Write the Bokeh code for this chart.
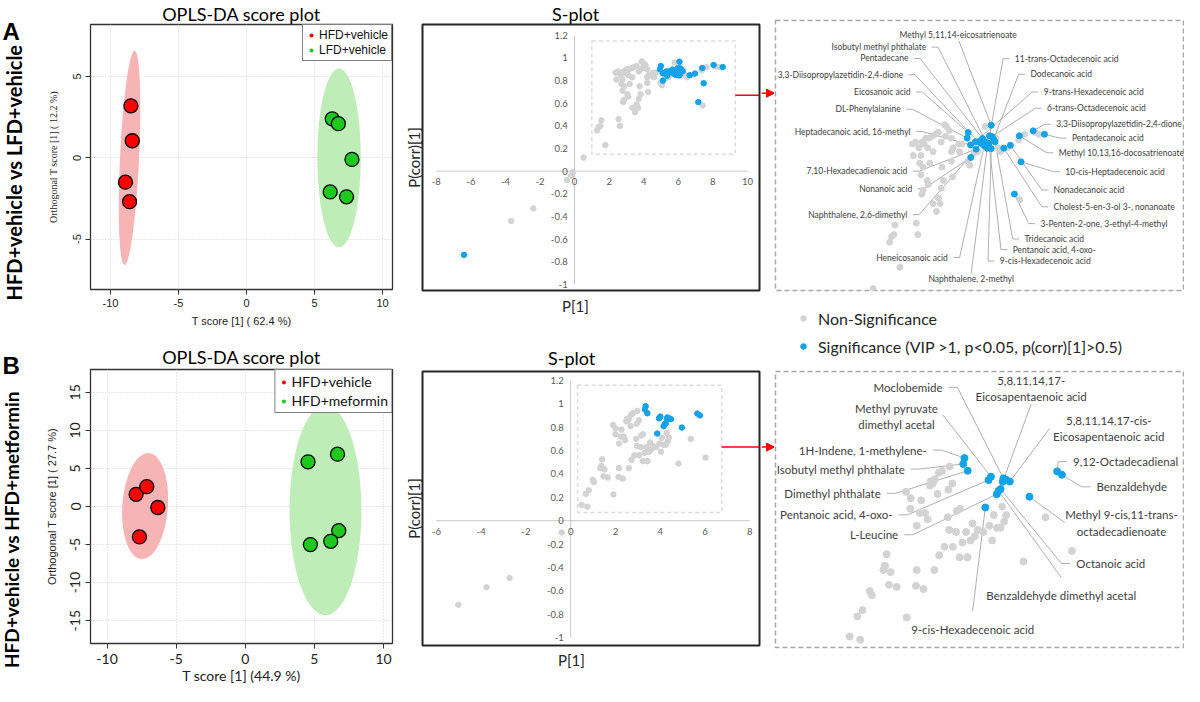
import math
from bokeh.plotting import figure
from bokeh.layouts import row, column
from bokeh.models import (Range1d, FixedTicker, Legend, LegendItem, Label, Arrow,
                          NormalHead, BoxAnnotation, Title)
from bokeh.core.properties import value
from bokeh.embed import file_html
from bokeh.resources import INLINE

# ======================= DATA =======================
row_labels = ["HFD+vehicle vs LFD+vehicle", "HFD+vehicle vs HFD+metformin"]
panel_letters = ["A", "B"]

# ---- OPLS-DA score plot A ----
scoreA_groups = ["HFD+vehicle", "LFD+vehicle"]
scoreA_g1_t = [-8.5, -8.4, -8.9, -8.6]
scoreA_g1_to = [3.2, 1.05, -1.5, -2.7]
scoreA_g2_t = [6.3, 6.75, 7.75, 6.15, 7.35]
scoreA_g2_to = [2.4, 2.1, -0.1, -2.1, -2.4]
scoreA_ell_x = [-8.6, 6.8]
scoreA_ell_y = [0.0, 0.0]
scoreA_ell_w = [1.4, 3.2]
scoreA_ell_h = [13.2, 11.0]
scoreA_ell_deg = [-2.7, 0.0]
scoreA_xlabel = "T score [1] ( 62.4 %)"
scoreA_ylabel = "Orthogonal T score [1] ( 12.2 %)"
scoreA_yticks = [-5, 0, 5]

# ---- OPLS-DA score plot B ----
scoreB_groups = ["HFD+vehicle", "HFD+meformin"]
scoreB_g1_t = [-7.9, -7.13, -6.33, -7.66]
scoreB_g1_to = [1.6, 2.6, -0.13, -4.0]
scoreB_g2_t = [4.54, 6.67, 6.76, 6.18, 4.71]
scoreB_g2_to = [5.87, 6.87, -3.17, -4.57, -5.0]
scoreB_ell_x = [-7.25, 5.8]
scoreB_ell_y = [0.05, -0.5]
scoreB_ell_w = [3.3, 5.2]
scoreB_ell_h = [14.0, 27.6]
scoreB_ell_deg = [-4.0, 0.0]
scoreB_xlabel = "T score [1] (44.9 %)"
scoreB_ylabel = "Orthogonal T score [1] ( 27.7 %)"
scoreB_yticks = [-15, -10, -5, 0, 5, 10, 15]

score_xticks = [-10, -5, 0, 5, 10]
score_title = "OPLS-DA score plot"

# ---- S-plot A ----
grayA_p = [-3.67, -2.39, -0.44, -0.19, -0.10, 0.52, 1.78, 1.30, 1.39, 1.50, 1.55, 2.55, 2.62,
           3.50, 3.34, 2.37, 2.41, 2.52, 2.67, 2.77, 2.83, 2.92, 3.00, 3.09, 3.15, 3.29, 3.44,
           3.59, 3.72, 3.88, 3.97, 3.92, 4.10, 4.20, 4.28, 4.20, 3.34, 2.71, 2.87, 2.77, 3.06,
           3.19, 3.11, 2.87, 2.81, 3.59, 3.67, 3.72, 3.82, 3.76, 4.20, 4.26, 4.58, 4.55, 4.70,
           4.97, 5.06, 5.25, 5.44, 5.79, 6.30, 6.40, 6.50, 6.84, 7.36, 7.64, 8.12, 8.31, 7.41]
grayA_pcorr = [-0.44, -0.33, -0.08, -0.04, -0.01, 0.12, 0.23, 0.36, 0.39, 0.40, 0.45, 0.46, 0.40,
               0.52, 0.56, 0.87, 0.81, 0.88, 0.85, 0.81, 0.88, 0.87, 0.90, 0.85, 0.90, 0.91, 0.92,
               0.93, 0.88, 0.97, 0.96, 0.91, 0.94, 0.90, 0.85, 0.83, 0.83, 0.77, 0.75, 0.71, 0.68,
               0.77, 0.66, 0.63, 0.61, 0.59, 0.56, 0.64, 0.68, 0.75, 0.78, 0.70, 0.83, 0.87, 0.87,
               0.78, 0.76, 0.82, 0.83, 0.96, 0.90, 0.85, 0.83, 0.85, 0.89, 0.92, 0.93, 0.92, 0.58]
sigA_names = ["Methyl 5,11,14-eicosatrienoate", "Isobutyl methyl phthalate", "Pentadecane",
              "3,3-Diisopropylazetidin-2,4-dione", "Eicosanoic acid", "DL-Phenylalanine",
              "Heptadecanoic acid, 16-methyl", "7,10-Hexadecadienoic acid", "Nonanoic acid",
              "Naphthalene, 2,6-dimethyl", "Heneicosanoic acid", "Naphthalene, 2-methyl",
              "9-cis-Hexadecenoic acid", "Pentanoic acid, 4-oxo-", "Tridecanoic acid",
              "3-Penten-2-one, 3-ethyl-4-methyl", "Cholest-5-en-3-ol 3-, nonanoate",
              "Nonadecanoic acid", "10-cis-Heptadecenoic acid", "Methyl 10,13,16-docosatrienoate",
              "Pentadecanoic acid", "3,3-Diisopropylazetidin-2,4-dione", "6-trans-Octadecenoic acid",
              "9-trans-Hexadecenoic acid", "Dodecanoic acid", "11-trans-Octadecenoic acid", ""]
sigA_p = [6.07, 5.82, 5.66, 5.46, 4.99, 4.94, 5.10, 5.36, 5.11, 5.60, 5.74, 5.88, 6.07, 5.96,
          6.25, 7.16, 6.66, 6.97, 7.47, 7.39, 8.57, 8.04, 6.11, 5.32, 6.18, 5.99, -6.4]
sigA_pcorr = [0.967, 0.881, 0.898, 0.881, 0.929, 0.900, 0.865, 0.843, 0.800, 0.872, 0.860, 0.848,
              0.846, 0.872, 0.881, 0.610, 0.848, 0.863, 0.777, 0.912, 0.920, 0.938, 0.908, 0.881,
              0.894, 0.912, -0.74]
splotA_xticks = [-8, -6, -4, -2, 0, 2, 4, 6, 8, 10]
splotA_xtick_labels = ["-8", "-6", "-4", "-2", "0", "2", "4", "6", "8", "10"]

# ---- S-plot B ----
grayB_p = [-0.40, -2.73, -3.76, -5.02, 0.49, 0.75, 0.68, 0.81, 0.99, 1.04, 1.33, 1.41, 1.37, 1.51,
           1.47, 1.66, 1.91, 2.16, 2.14, 2.33, 2.60, 1.89, 2.01, 2.00, 2.16, 2.37, 2.43, 2.24, 2.49,
           2.56, 2.61, 2.71, 2.79, 2.98, 2.68, 2.51, 2.95, 3.05, 2.93, 2.97, 3.16, 3.24, 2.85, 3.06,
           3.43, 3.30, 2.72, 3.14, 3.39, 3.50, 3.61, 3.68, 3.55, 3.82, 3.97, 4.04, 4.08, 4.25, 4.29,
           4.39, 4.34, 4.16, 4.82, 5.37, 6.03, 2.27, 3.23, 3.42]
grayB_pcorr = [-0.10, -0.49, -0.57, -0.72, 0.135, 0.12, 0.23, 0.26, 0.35, 0.33, 0.45, 0.525, 0.47,
               0.44, 0.38, 0.37, 0.225, 0.45, 0.375, 0.36, 0.45, 0.82, 0.79, 0.74, 0.66, 0.72, 0.69,
               0.72, 0.85, 0.86, 0.88, 0.91, 0.92, 0.94, 0.81, 0.87, 0.83, 0.86, 0.70, 0.64, 0.73,
               0.74, 0.56, 0.56, 0.51, 0.58, 0.52, 0.63, 0.63, 0.59, 0.61, 0.64, 0.67, 0.63, 0.66,
               0.59, 0.71, 0.65, 0.75, 0.71, 0.68, 0.65, 0.49, 0.70, 0.54, 0.78, 0.51, 0.51]
sigB_names = ["Moclobemide", "Methyl pyruvate\ndimethyl acetal", "1H-Indene, 1-methylene-",
              "Isobutyl methyl phthalate", "Dimethyl phthalate", "Pentanoic acid, 4-oxo-",
              "L-Leucine", "5,8,11,14,17-\nEicosapentaenoic acid",
              "5,8,11,14,17-cis-\nEicosapentaenoic acid", "9,12-Octadecadienal", "Benzaldehyde",
              "Methyl 9-cis,11-trans-\noctadecadienoate", "Octanoic acid",
              "Benzaldehyde dimethyl acetal", "9-cis-Hexadecenoic acid", ""]
sigB_p = [4.32, 4.01, 3.35, 3.32, 3.43, 3.95, 4.155, 4.305, 4.48, 5.66, 5.78, 4.97, 4.25, 4.20,
          3.87, 4.39]
sigB_pcorr = [0.884, 0.892, 0.980, 0.952, 0.920, 0.876, 0.809, 0.868, 0.869, 0.917, 0.901, 0.797,
              0.833, 0.825, 0.746, 0.877]
splotB_xticks = [-6, -4, -2, 0, 2, 4, 6, 8]
splotB_xtick_labels = ["-6", "-4", "-2", "0", "2", "4", "6", "8"]

splot_yticks = [-1, -0.8, -0.6, -0.4, -0.2, 0, 0.2, 0.4, 0.6, 0.8, 1, 1.2]
splot_ytick_labels = ["-1", "-0.8", "-0.6", "-0.4", "-0.2", "0", "0.2", "0.4", "0.6", "0.8", "1", "1.2"]
splot_title = "S-plot"
splot_xlabel = "P[1]"
splot_ylabel = "P(corr)[1]"
legend_labels = ["Non-Significance", "Significance (VIP >1, p<0.05, p(corr)[1]>0.5)"]

# ======================= LAYOUT / STYLE =======================
RED, GREEN = "#FF0000", "#1FC81F"
RED_ELL, GREEN_ELL = "#F7B4B4", "#BFEDB7"
GRAY, BLUE = "#D3D3D3", "#12A2E8"
TXT = "#404040"
NAN = float("nan")

# zoom windows in S-plots and the zoomed view ranges
zoomA_box = (1.0, 9.3, 0.15, 1.15)
zoomB_box = (0.31, 6.75, 0.07, 1.16)
arrowA_y, arrowB_y = 0.67, 0.63
panelA_xr, panelA_yr = (-4.06, 15.1), (0.11, 1.51)
panelB_xr, panelB_yr = (-1.36, 8.81), (0.083, 1.39)

# label layout in zoomed-panel coordinates (x, y, align); lead start for centred labels
labA_x = [4.52, 3.02, 2.18, 1.94, 2.285, 1.82, 2.285, 2.13, 2.36, 2.13, 4.035, 5.13,
          6.47, 7.08, 7.63, 8.38, 9.0, 9.0, 9.55, 9.24, 9.86, 9.12, 8.69, 8.54, 7.91, 7.18]
labA_y = [1.434, 1.372, 1.313, 1.229, 1.139, 1.05, 0.934, 0.729, 0.638, 0.503, 0.281, 0.17,
          0.263, 0.322, 0.377, 0.457, 0.544, 0.631, 0.726, 0.824, 0.90, 0.972, 1.055, 1.139,
          1.231, 1.312]
labA_al = ["center"] + ["right"] * 10 + ["center"] + ["left"] * 14
leadA = {0: (4.55, 1.405), 11: (5.13, 0.198)}

labB_x = [2.805, 1.655, 2.413, 1.863, 1.263, 1.555, 1.697, 5.013, 6.947, 6.055, 6.64, 7.263,
          6.138, 5.763, 3.555]
labB_y = [1.315, 1.177, 1.018, 0.928, 0.813, 0.711, 0.617, 1.309, 1.12, 0.963, 0.844, 0.672,
          0.481, 0.331, 0.166]
labB_al = ["right", "center", "right", "right", "right", "right", "right", "center", "center",
           "left", "left", "center", "left", "center", "center"]
leadB = {1: (2.81, 1.185), 7: (5.013, 1.236), 8: (5.47, 1.12), 11: (5.85, 0.675),
         13: (5.763, 0.415), 14: (3.555, 0.255)}

W0, W1, W2, WC, W3 = 38, 364, 359, 13, 410
HA, HB = 337, 349


def base_fig(w, h, xr, yr, axes=False, **kw):
    args = dict(width=w, height=h, x_range=Range1d(*xr), y_range=Range1d(*yr),
                toolbar_location=None, output_backend="svg", title=None)
    if not axes:
        args.update(x_axis_type=None, y_axis_type=None)
    args.update(kw)
    p = figure(**args)
    p.background_fill_color = "white"
    p.border_fill_color = "white"
    return p


def letter_fig(h, letter, letter_y, label, label_x, label_y, label_fs):
    p = base_fig(W0, h, (0, W0), (h, 0), min_border=0)
    p.outline_line_color = None
    p.add_layout(Label(x=2, y=letter_y, text=letter, text_font="Liberation Sans",
                       text_font_style="bold", text_font_size="24px", text_color="black",
                       text_baseline="alphabetic"))
    p.add_layout(Label(x=label_x, y=label_y, text=label, angle=math.pi / 2, text_font="Lato",
                       text_font_style="bold", text_font_size=label_fs, text_color="black",
                       text_align="center", text_baseline="middle"))
    return p


def score_fig(h, top, bottom, xr, yr, yticks, g1t, g1o, g2t, g2o, ex, ey, ew, eh, edeg,
              groups, xlabel, ylabel, big, title_standoff):
    p = base_fig(W1, h, xr, yr, axes=True, min_border_left=52, min_border_right=10,
                 min_border_top=top, min_border_bottom=bottom)
    p.add_layout(Title(text=score_title, align="center", text_font="Lato",
                       text_font_size="18px", text_font_style="normal", text_color="black",
                       standoff=title_standoff), "above")
    p.xaxis.ticker = FixedTicker(ticks=score_xticks)
    p.yaxis.ticker = FixedTicker(ticks=yticks)
    p.xaxis.major_label_overrides = {t: str(t) for t in score_xticks}
    p.yaxis.major_label_overrides = {t: str(t) for t in yticks}
    p.axis.axis_line_color = None
    p.axis.major_tick_in = 0
    p.axis.major_tick_out = 5
    p.axis.major_tick_line_color = "#333333"
    p.axis.minor_tick_line_color = None
    p.yaxis.major_label_orientation = "vertical"
    p.axis.major_label_text_color = "#222222"
    p.axis.axis_label_text_font_style = "normal"
    p.axis.axis_label_text_color = "#222222"
    if big:
        p.axis.major_label_text_font = "Lato"
        p.axis.major_label_text_font_size = "14px"
        p.xaxis.axis_label_text_font = "Lato"
        p.xaxis.axis_label_text_font_size = "14px"
        p.yaxis.axis_label_text_font = "Liberation Sans"
        p.yaxis.axis_label_text_font_size = "11px"
        p.axis.major_label_standoff = 5
        p.xaxis.axis_label_standoff = 0
        p.yaxis.axis_label_standoff = 10
    else:
        p.axis.major_label_text_font = "Liberation Sans"
        p.axis.major_label_text_font_size = "11px"
        p.xaxis.axis_label_text_font = "Liberation Sans"
        p.xaxis.axis_label_text_font_size = "11px"
        p.yaxis.axis_label_text_font = "Liberation Sans Narrow"
        p.yaxis.axis_label_text_font_size = "10px"
        p.axis.major_label_standoff = 4
        p.xaxis.axis_label_standoff = 5
        p.yaxis.axis_label_standoff = 12
    p.xaxis.axis_label = xlabel
    p.yaxis.axis_label = ylabel
    p.grid.grid_line_color = "#CFCFCF"
    p.grid.grid_line_dash = "1 2"
    p.outline_line_color = "#333333"
    p.outline_line_width = 1.3
    p.outline_line_alpha = 1

    p.ellipse(x=ex, y=ey, width=ew, height=eh, angle=edeg, angle_units="deg",
              fill_color=[RED_ELL, GREEN_ELL], line_color=None)
    p.scatter(g1t, g1o, size=14, fill_color=RED, line_color="black", line_width=1.3)
    p.scatter(g2t, g2o, size=14, fill_color=GREEN, line_color="black", line_width=1.3)

    # legend swatches (renderers with no visible point)
    r1 = p.scatter(x=[NAN], y=[NAN], size=8 if big else 7, fill_color=RED, line_color=None)
    r2 = p.scatter(x=[NAN], y=[NAN], size=8 if big else 7, fill_color=GREEN, line_color=None)
    fs = "14px" if big else "12px"
    leg = Legend(items=[LegendItem(label=groups[0], renderers=[r1]),
                        LegendItem(label=groups[1], renderers=[r2])],
                 location="top_right", margin=0, padding=3, spacing=1 if not big else 2,
                 glyph_width=10, glyph_height=14 if big else 12,
                 label_height=14 if big else 12, label_standoff=3,
                 label_text_font="Lato" if big else "Liberation Sans", label_text_font_size=fs,
                 label_text_color="#111111", border_line_color="black", border_line_width=1,
                 background_fill_color="white", background_fill_alpha=1)
    p.add_layout(leg)
    return p


def s_fig(h, top, bottom, xr, yr, ns_x, ns_y, sx, sy, xticks, xtlabels, zb, arrow_y,
          title_standoff, xlabel_standoff):
    p = base_fig(W2, h, xr, yr, min_border_left=17, min_border_right=2,
                 min_border_top=top, min_border_bottom=bottom)
    fw, fh = W2 - 17 - 2, h - top - bottom
    ppx, ppy = fw / (xr[1] - xr[0]), fh / (yr[1] - yr[0])
    # titles are centred over the P = 0 line, as in the source figure
    x0_px = (0 - xr[0]) * ppx
    p.add_layout(Title(text=splot_title, align="left", offset=x0_px - 24, text_font="Lato",
                       text_font_size="18px", text_font_style="normal", text_color="black",
                       standoff=title_standoff), "above")
    p.add_layout(Title(text=splot_xlabel, align="left", offset=x0_px - 14, text_font="Lato",
                       text_font_size="15px", text_font_style="normal", text_color="#262626",
                       standoff=xlabel_standoff), "below")
    p.add_layout(Title(text=splot_ylabel, align="center", text_font="Lato",
                       text_font_size="15px", text_font_style="normal", text_color="#262626",
                       standoff=0), "left")
    p.outline_line_color = "#262626"
    p.outline_line_width = 2
    p.segment(x0=[xticks[0], 0], y0=[0, splot_yticks[0]], x1=[xticks[-1], 0],
              y1=[0, splot_yticks[-1]], line_color="#C8C8C8", line_width=1)
    p.text(x=xticks, y=[-7 / ppy] * len(xticks), text=xtlabels, text_align="center",
           text_baseline="top", text_font=value("Lato"), text_font_size="9.5px",
           text_color="#595959")
    p.text(x=[-7 / ppx] * len(splot_yticks), y=splot_yticks, text=splot_ytick_labels,
           text_align="right", text_baseline="middle", text_font=value("Lato"),
           text_font_size="9.5px", text_color="#595959")
    p.scatter(ns_x, ns_y, size=5.5, color=GRAY)
    p.scatter(sx, sy, size=5.5, color=BLUE)
    p.add_layout(BoxAnnotation(left=zb[0], right=zb[1], bottom=zb[2], top=zb[3],
                               fill_color=None, line_color="#8C8C8C", line_dash="4 3",
                               line_width=1.5))
    # first part of the red connector arrow (inside the chart)
    p.add_layout(Arrow(end=None, x_start=zb[1], y_start=arrow_y, x_end=xr[1], y_end=arrow_y,
                       line_color=RED, line_width=1.5))
    return p


def connector_fig(h, top, bottom, yr, arrow_y):
    p = base_fig(WC, h, (0, 1), yr, min_border_left=0, min_border_right=0,
                 min_border_top=top, min_border_bottom=bottom)
    p.outline_line_color = None
    p.add_layout(Arrow(end=NormalHead(size=8, fill_color=RED, line_color=RED, line_width=1),
                       x_start=0, y_start=arrow_y, x_end=1, y_end=arrow_y,
                       line_color=RED, line_width=1.5))
    return p


def panel_fig(h, top, bottom, xr, yr, ns_x, ns_y, sx, sy, names, lx, ly, lal, lead,
              fs, dot, gap, stub):
    p = base_fig(W3, h, xr, yr, min_border_left=1, min_border_right=1,
                 min_border_top=top, min_border_bottom=bottom)
    p.outline_line_color = "#A6A6A6"
    p.outline_line_dash = "5 3"
    p.outline_line_width = 1.5
    xs, ys = [], []
    for i in range(len(lx)):
        px, py = sx[i], sy[i]
        if lal[i] == "right":
            xs.append([lx[i] + gap, lx[i] + gap + stub, px]); ys.append([ly[i], ly[i], py])
        elif lal[i] == "left":
            xs.append([lx[i] - gap, lx[i] - gap - stub, px]); ys.append([ly[i], ly[i], py])
        else:
            xs.append([lead[i][0], px]); ys.append([lead[i][1], py])
    p.multi_line(xs, ys, line_color="#A6A6A6", line_width=0.9)
    p.scatter(ns_x, ns_y, size=dot, color=GRAY)
    p.scatter(sx, sy, size=dot, color=BLUE)
    for al in ("left", "right", "center"):
        idx = [i for i in range(len(lx)) if lal[i] == al]
        p.text(x=[lx[i] for i in idx], y=[ly[i] for i in idx], text=[names[i] for i in idx],
               text_align=al, text_baseline="middle", text_font=value("Lato"),
               text_font_size=fs, text_color=TXT, text_line_height=1.25)
    return p


# ---- column 0: letters & row labels ----
c0a = letter_fig(HA, panel_letters[0], 31, row_labels[0], 13, 172, "20px")
c0b = letter_fig(HB, panel_letters[1], 28, row_labels[1], 11, 192, "19px")

# ---- column 1: score plots ----
s1a = score_fig(HA, 21, 48, (-11.47, 10.73), (-8.1, 8.2), scoreA_yticks,
                scoreA_g1_t, scoreA_g1_to, scoreA_g2_t, scoreA_g2_to,
                scoreA_ell_x, scoreA_ell_y, scoreA_ell_w, scoreA_ell_h, scoreA_ell_deg,
                scoreA_groups, scoreA_xlabel, scoreA_ylabel, big=False, title_standoff=0)
s1b = score_fig(HB, 32, 41, (-11.2, 10.65), (-18, 18), scoreB_yticks,
                scoreB_g1_t, scoreB_g1_to, scoreB_g2_t, scoreB_g2_to,
                scoreB_ell_x, scoreB_ell_y, scoreB_ell_w, scoreB_ell_h, scoreB_ell_deg,
                scoreB_groups, scoreB_xlabel, scoreB_ylabel, big=True, title_standoff=4)

# ---- column 2: S-plots + connector arrows ----
yrA, yrB = (-1.055, 1.296), (-1.068, 1.277)
s2a = s_fig(HA, 21, 47, (-8.8, 10.7), yrA, grayA_p, grayA_pcorr, sigA_p,
            sigA_pcorr, splotA_xticks, splotA_xtick_labels, zoomA_box, arrowA_y, 0, 8)
s2b = s_fig(HB, 34, 41, (-6.62, 8.44), yrB, grayB_p, grayB_pcorr, sigB_p,
            sigB_pcorr, splotB_xticks, splotB_xtick_labels, zoomB_box, arrowB_y, 6, 6)
cna = connector_fig(HA, 21, 47, yrA, arrowA_y)
cnb = connector_fig(HB, 34, 41, yrB, arrowB_y)

# ---- column 3: zoomed panels + legend ----
p3a = panel_fig(292, 20, 2, panelA_xr, panelA_yr, grayA_p, grayA_pcorr, sigA_p, sigA_pcorr,
                sigA_names, labA_x, labA_y, labA_al, leadA, "8.5px", 6, 0.25, 0.3)
p3b = panel_fig(317, 2, 39, panelB_xr, panelB_yr, grayB_p, grayB_pcorr, sigB_p, sigB_pcorr,
                sigB_names, labB_x, labB_y, labB_al, leadB, "11.5px", 7, 0.15, 0.22)

lg = base_fig(W3, 77, (0, 1), (0, 1), min_border=0)
lg.outline_line_color = None
rg = lg.scatter(x=[NAN], y=[NAN], size=10, color=GRAY)
rb = lg.scatter(x=[NAN], y=[NAN], size=10, color=BLUE)
lg.add_layout(Legend(items=[LegendItem(label=legend_labels[0], renderers=[rg]),
                            LegendItem(label=legend_labels[1], renderers=[rb])],
                     location=(21, 13), margin=0, padding=3, spacing=8, glyph_width=14,
                     glyph_height=20, label_height=20, label_standoff=8,
                     label_text_font="Lato", label_text_font_size="16px",
                     label_text_color="#262626", border_line_color=None,
                     background_fill_alpha=0))

layout = row(column(c0a, c0b), column(s1a, s1b), column(s2a, s2b), column(cna, cnb),
             column(p3a, lg, p3b))

open("out.html", "w").write(file_html(layout, INLINE))
